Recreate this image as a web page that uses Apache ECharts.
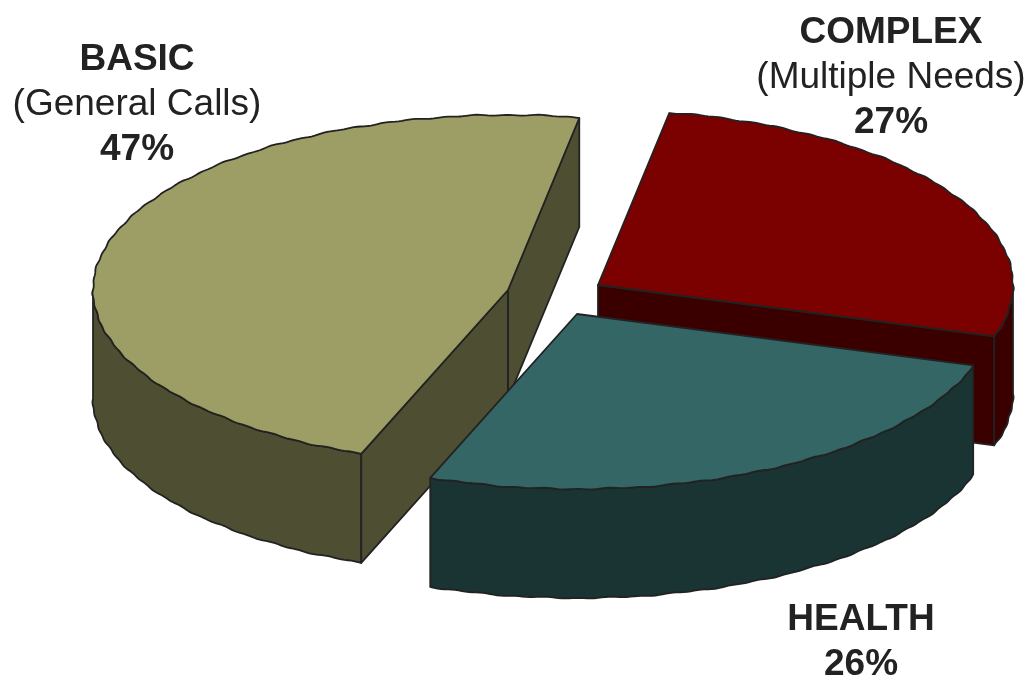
<!DOCTYPE html>
<html>
<head>
<meta charset="utf-8">
<style>
html,body{margin:0;padding:0;background:#fff}
#main{width:1029px;height:678px}
</style>
<script src="https://cdn.jsdelivr.net/npm/echarts@6/dist/echarts.min.js"></script>
</head>
<body>
<div id="main"></div>
<script>
// chart values
var categories = ['BASIC', 'COMPLEX', 'HEALTH'];
var subtitles = ['(General Calls)', '(Multiple Needs)', ''];
var shares = [47, 27, 26];

// look of the slices, same order as categories
var topColors = ['#9d9d66', '#7b0000', '#346666'];
var sideColors = ['#4e4e33', '#3a0000', '#1a3333'];
var centers = [[508, 290], [598, 285], [577, 314]];
var labelSpots = [[137, 60], [891, 33], [861, 620]];
var lineGap = 45;

var startAngle = 110.7;   // where BASIC starts, degrees clockwise from 3 o'clock
var rx = 415, ry = 175, depth = 109;
var ink = '#222222';

var total = shares.reduce(function (a, b) { return a + b; }, 0);
var rad = Math.PI / 180;

// rim point, with the small uneven ripple the original edge has
function rim(c, deg) {
    var t = deg * rad;
    var wob = 0.4 * Math.sin(deg * 83 * rad) + 0.35 * Math.sin(deg * 37 * rad);
    return [c[0] + (rx + wob) * Math.cos(t), c[1] + (ry + wob) * Math.sin(t)];
}
function arc(c, from, to) {
    var pts = [], d;
    for (d = from; d < to; d += 0.5) pts.push(rim(c, d));
    pts.push(rim(c, to));
    return pts;
}
function down(pts) {
    return pts.map(function (p) { return [p[0], p[1] + depth]; }).reverse();
}
function poly(points, fill, z) {
    return {
        type: 'polygon',
        z2: z,
        shape: { points: points },
        style: { fill: fill, stroke: ink, lineWidth: 1.8, lineJoin: 'round' }
    };
}
// front part of the outer wall: only where the rim faces the viewer
function outerWalls(c, a0, a1, fill) {
    var out = [], k;
    for (k = 0; k <= 1; k++) {
        var lo = Math.max(a0, k * 360), hi = Math.min(a1, k * 360 + 180);
        if (hi > lo) {
            var top = arc(c, lo, hi);
            out.push(poly(top.concat(down(top)), fill, 1));
        }
    }
    return out;
}
function cutWall(c, deg, fill) {
    var edge = [c, rim(c, deg)];
    return poly(edge.concat(down(edge)), fill, 1);
}

function renderSlice(params, api) {
    var i = params.dataIndex;
    var a0 = api.value(0), a1 = api.value(1);
    var c = centers[i];
    var kids = outerWalls(c, a0, a1, sideColors[i]);
    // cut faces show only if the slice sits above them on screen
    if (Math.cos(a0 * rad) < 0) kids.push(cutWall(c, a0, sideColors[i]));
    if (Math.cos(a1 * rad) > 0) kids.push(cutWall(c, a1, sideColors[i]));
    kids.push(poly([c].concat(arc(c, a0, a1)), topColors[i], 2));

    var lines = [{ t: categories[i], w: 'bold' }];
    if (subtitles[i]) lines.push({ t: subtitles[i], w: 'normal' });
    lines.push({ t: api.value(2) + '%', w: 'bold' });
    lines.forEach(function (l, n) {
        kids.push({
            type: 'text',
            z2: 3,
            style: {
                text: l.t,
                x: labelSpots[i][0],
                y: labelSpots[i][1] + n * lineGap,
                fill: ink,
                align: 'center',
                verticalAlign: 'middle',
                font: l.w + ' 37px "Liberation Sans", Arial, sans-serif'
            }
        });
    });
    return { type: 'group', children: kids };
}

var sliceData = [];
var run = startAngle;
shares.forEach(function (v) {
    var sweep = v / total * 360;
    sliceData.push([run, run + sweep, v]);
    run += sweep;
});

var myChart = echarts.init(document.getElementById('main'), null, { renderer: 'canvas' });
myChart.setOption({
    backgroundColor: '#ffffff',
    animation: false,
    series: [{
        type: 'custom',
        coordinateSystem: 'none',
        silent: true,
        renderItem: renderSlice,
        data: sliceData
    }]
});
</script>
</body>
</html>
